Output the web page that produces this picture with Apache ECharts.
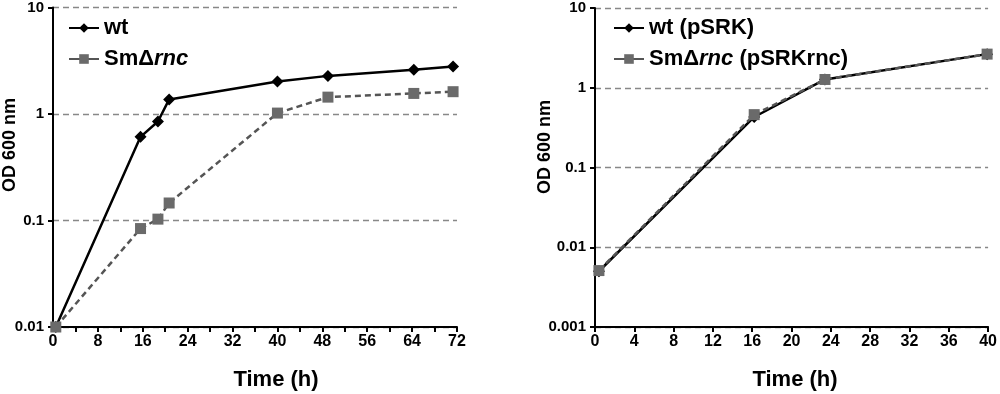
<!DOCTYPE html>
<html>
<head>
<meta charset="utf-8">
<script src="https://cdn.jsdelivr.net/npm/echarts@6/dist/echarts.min.js"></script>
<style>html,body{margin:0;padding:0;background:#fff}#c{width:1000px;height:394px}</style>
</head>
<body>
<div id="c"></div>
<script>
// ---- Data ----
const leftTime  = [0.5, 15.6, 18.7, 20.7, 40, 49, 64.3, 71.3];
const wtLeft    = [0.01, 0.61, 0.85, 1.37, 2.02, 2.28, 2.6, 2.79];
const rncLeft   = [0.01, 0.084, 0.103, 0.146, 1.02, 1.44, 1.56, 1.62];
const rightTime = [0.4, 16.2, 23.4, 39.9];
const wtRight   = [0.005, 0.43, 1.27, 2.64];
const rncRight  = [0.0051, 0.46, 1.27, 2.64];
const seriesNames = ['wt', 'SmΔrnc', 'wt (pSRK)', 'SmΔrnc (pSRKrnc)'];
const axisTitles = { y: 'OD 600 nm', x: 'Time (h)' };

const FONT = '"Liberation Sans", Arial, sans-serif';
const pair = (xs, ys) => xs.map((x, i) => [x, ys[i]]);

const chart = echarts.init(document.getElementById('c'), null, {renderer: 'canvas'});

function xAxisCfg(gridIndex, max, interval, minor) {
  return {
    type: 'value', gridIndex, min: 0, max, interval,
    axisLine: {show: true, onZero: false, lineStyle: {color: '#000', width: 2}},
    axisTick: {show: true, length: 5, lineStyle: {color: '#000', width: 2}},
    minorTick: {show: minor, splitNumber: 2, length: 5, lineStyle: {color: '#000', width: 2}},
    axisLabel: {color: '#000', fontSize: 16, fontWeight: 'bold', fontFamily: FONT, margin: 7},
    splitLine: {show: false}
  };
}
function yAxisCfg(gridIndex, min) {
  return {
    type: 'log', logBase: 10, gridIndex, min, max: 10,
    axisLine: {show: true, lineStyle: {color: '#000', width: 2}},
    axisTick: {show: true, length: 5, lineStyle: {color: '#000', width: 2}},
    axisLabel: {color: '#000', fontSize: 15, fontWeight: 'bold', fontFamily: FONT, margin: 9,
      formatter: v => v >= 1 ? String(Math.round(v)) : String(parseFloat(Number(v).toPrecision(1)))},
    splitLine: {show: true, lineStyle: {color: '#888', width: 1.3, type: [6, 4]}},
    minorTick: {show: false}, minorSplitLine: {show: false}
  };
}

const rich = {
  b: {fontSize: 22, fontWeight: 'bold', fontFamily: FONT, color: '#000'},
  i: {fontSize: 22, fontWeight: 'bold', fontStyle: 'italic', fontFamily: FONT, color: '#000'}
};
function legendFmt(name) {
  if (name.indexOf('SmΔrnc') === 0) {
    return '{b|SmΔ}{i|rnc}' + (name.length > 6 ? '{b|' + name.slice(6) + '}' : '');
  }
  return '{b|' + name + '}';
}
function legendCfg(left, names) {
  return {
    orient: 'vertical', left, top: 12, itemWidth: 30, itemHeight: 12, itemGap: 9,
    formatter: legendFmt,
    textStyle: {fontSize: 22, fontWeight: 'bold', fontFamily: FONT, color: '#000', rich},
    data: names.map(n => ({name: n, lineStyle: {type: 'solid', width: 2}}))
  };
}

const wtStyle = (xi, yi, name, data) => ({
  name, type: 'line', xAxisIndex: xi, yAxisIndex: yi, data,
  symbol: 'diamond', symbolSize: 12,
  lineStyle: {color: '#000', width: 2.5},
  itemStyle: {color: '#000'}
});
const rncStyle = (xi, yi, name, data) => ({
  name, type: 'line', xAxisIndex: xi, yAxisIndex: yi, data,
  symbol: 'rect', symbolSize: 11,
  lineStyle: {color: '#555', width: 2.5, type: [6, 4]},
  itemStyle: {color: '#6a6a6a'}
});

chart.setOption({
  animation: false,
  backgroundColor: '#fff',
  grid: [
    {left: 53, top: 7, width: 404, height: 320},
    {left: 595, top: 8, width: 397, height: 319}
  ],
  xAxis: [xAxisCfg(0, 72, 8, true), xAxisCfg(1, 40, 4, false)],
  yAxis: [yAxisCfg(0, 0.01), yAxisCfg(1, 0.001)],
  legend: [legendCfg(63, [seriesNames[0], seriesNames[1]]), legendCfg(608, [seriesNames[2], seriesNames[3]])],
  series: [
    wtStyle(0, 0, seriesNames[0], pair(leftTime, wtLeft)),
    rncStyle(0, 0, seriesNames[1], pair(leftTime, rncLeft)),
    wtStyle(1, 1, seriesNames[2], pair(rightTime, wtRight)),
    rncStyle(1, 1, seriesNames[3], pair(rightTime, rncRight))
  ],
  graphic: [
    {type: 'text', x: 10, y: 145, rotation: Math.PI / 2,
     style: {text: axisTitles.y, fontSize: 18, fontWeight: 'bold', fontFamily: FONT, fill: '#000', align: 'center', verticalAlign: 'middle'}},
    {type: 'text', x: 545, y: 147, rotation: Math.PI / 2,
     style: {text: axisTitles.y, fontSize: 18, fontWeight: 'bold', fontFamily: FONT, fill: '#000', align: 'center', verticalAlign: 'middle'}},
    {type: 'text', x: 276, y: 380,
     style: {text: axisTitles.x, fontSize: 22, fontWeight: 'bold', fontFamily: FONT, fill: '#000', align: 'center', verticalAlign: 'middle'}},
    {type: 'text', x: 795, y: 380,
     style: {text: axisTitles.x, fontSize: 22, fontWeight: 'bold', fontFamily: FONT, fill: '#000', align: 'center', verticalAlign: 'middle'}}
  ]
});
</script>
</body>
</html>
